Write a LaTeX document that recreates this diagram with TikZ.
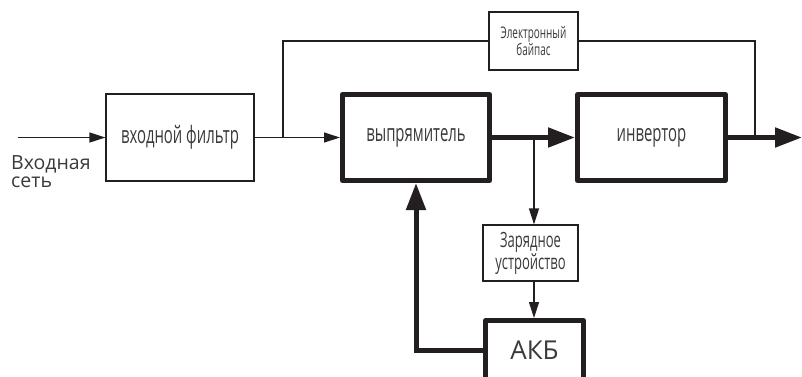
\documentclass[tikz,border=0pt]{standalone}
\usepackage{fontspec}
\usepackage{xcolor}
\usepackage{tikz}
\usetikzlibrary{arrows.meta}
\setmainfont{Open Sans}
\newfontfamily\narrowfont[FakeStretch=0.62]{Open Sans}
\definecolor{linecol}{HTML}{231F20}
\definecolor{textcol}{HTML}{3A3A3A}
\tikzset{
  thinbox/.style={draw=linecol, line width=1.2pt, inner sep=0pt, align=center, text=textcol},
  thickbox/.style={draw=linecol, line width=5pt, line join=round, inner sep=0pt, align=center, text=textcol},
  thinline/.style={draw=linecol, line width=1.2pt},
  thickline/.style={draw=linecol, line width=5pt},
  thinarrow/.style={thinline, -{Triangle[length=16pt,width=10pt]}},
  thickarrow/.style={thickline, -{Triangle[length=27pt,width=19pt]}}
}
\begin{document}
\begin{tikzpicture}[x=1pt,y=-1pt]
\useasboundingbox (0,0) rectangle (802,376);
\clip (0,0) rectangle (802,376);
% blocks
\node [thinbox, minimum width=148pt, minimum height=87pt,
  font=\narrowfont\fontsize{24}{24}\selectfont] (filter) at (180,137.5) {входной фильтр};
\node [thickbox, minimum width=147pt, minimum height=86pt,
  font=\narrowfont\fontsize{24}{24}\selectfont] (rectifier) at (416,137.5) {выпрямитель};
\node [thickbox, minimum width=148pt, minimum height=86pt,
  font=\narrowfont\fontsize{24}{24}\selectfont] (inverter) at (651.5,137.5) {инвертор};
\node [thinbox, minimum width=89pt, minimum height=58pt,
  font=\narrowfont\fontsize{16}{14}\selectfont] (bypass) at (533.5,41) {Электронный\\байпас};
\node [thinbox, minimum width=95pt, minimum height=56pt,
  font=\narrowfont\fontsize{21}{20}\selectfont] (charger) at (530.5,253) {Зарядное\\устройство};
\node [thickbox, minimum width=98pt, minimum height=59pt,
  font=\fontsize{26}{26}\selectfont] (battery) at (534.5,350) {АКБ};
\node [anchor=north west, inner sep=0pt, align=left, text=textcol,
  font=\fontsize{19.5}{18.5}\selectfont] (inlabel) at (11,155) {Входная\\сеть};

% junctions
\coordinate (in) at (18,137.5);
\coordinate (out) at (802,137.5);
\coordinate (split) at (283,137.5);
\coordinate (merge) at (755,137.5);
\coordinate (tap) at (534,137.5);

% connections
\draw [thinarrow] (in) -- (filter.west);
\draw [thinarrow] (filter.east) -- (rectifier.west);
\draw [thinline] (split) |- (bypass.west);
\draw [thinline] (bypass.east) -| (merge);
\draw [thickarrow] (rectifier.east) -- (inverter.west);
\draw [thickarrow] (inverter.east) -- (out);
\draw [thinarrow] (tap) -- (tap |- charger.north);
\draw [thinarrow] (tap |- charger.south) -- (tap |- battery.north);
\draw [thickarrow] (battery.west) -| (rectifier.south);
\end{tikzpicture}
\end{document}
